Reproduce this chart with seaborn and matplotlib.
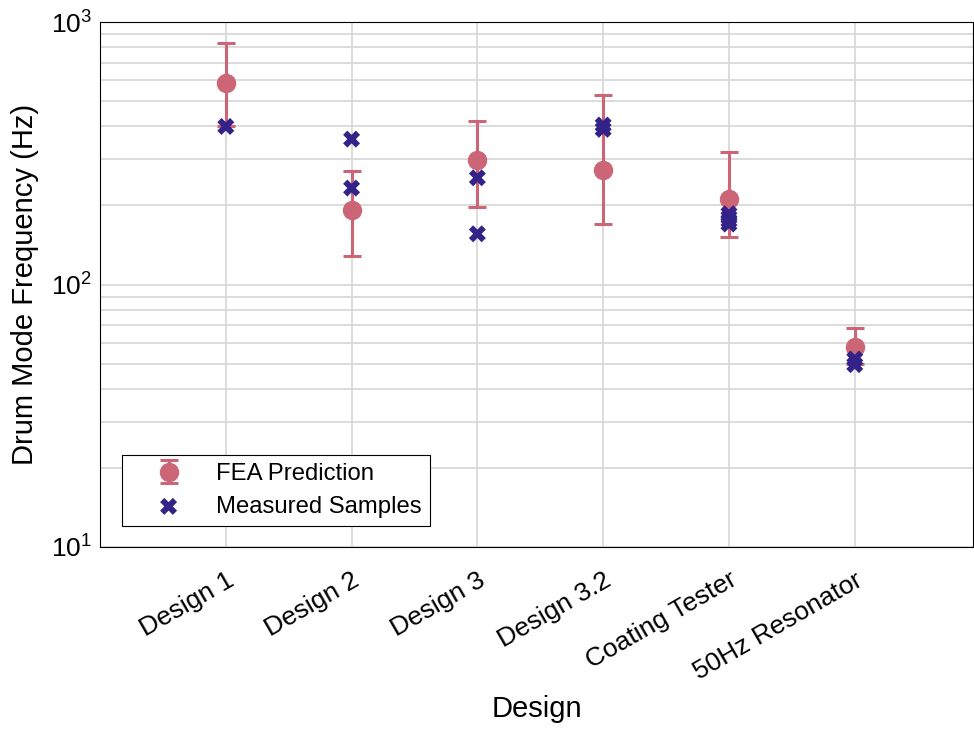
import matplotlib
matplotlib.use("Agg")
import matplotlib.pyplot as plt
import seaborn as sns
import numpy as np
import pandas as pd

# Designs on the x axis
designs = ["Design 1", "Design 2", "Design 3", "Design 3.2",
           "Coating Tester", "50Hz Resonator"]

# FEA predicted drum-mode frequency (Hz) with lower / upper bounds
fea_freq = [587, 192, 298, 272, 212, 58]
fea_low = [400, 128, 198, 170, 152, 50]
fea_high = [830, 271, 420, 527, 321, 68]

# Measured samples (Hz)
meas_design = ["Design 1",
               "Design 2", "Design 2",
               "Design 3", "Design 3",
               "Design 3.2", "Design 3.2",
               "Coating Tester", "Coating Tester", "Coating Tester", "Coating Tester",
               "50Hz Resonator", "50Hz Resonator"]
meas_freq = [400,
             358, 233,
             255, 156,
             405, 390,
             186, 180, 175, 170,
             52, 49.5]

FEA_COLOR = "#CC6677"
MEAS_COLOR = "#332288"

sns.set_theme(style="whitegrid")
plt.rcParams["font.family"] = ["Liberation Sans", "DejaVu Sans"]
plt.rcParams["mathtext.fontset"] = "custom"
plt.rcParams["mathtext.rm"] = "Liberation Sans"
plt.rcParams["mathtext.it"] = "Liberation Sans:italic"
for key in ("text.color", "axes.labelcolor", "xtick.color", "ytick.color"):
    plt.rcParams[key] = "black"

fig, ax = plt.subplots(figsize=(9.74, 7.29), dpi=100)
fig.subplots_adjust(left=100 / 974, right=973 / 974, top=1 - 22 / 729, bottom=1 - 547 / 729)

pos = {d: i for i, d in enumerate(designs)}
fea = np.array(fea_freq, dtype=float)
yerr = np.vstack([fea - np.array(fea_low), np.array(fea_high) - fea])
x_fea = [pos[d] for d in designs]

ax.errorbar(x_fea, fea, yerr=yerr, fmt="o", color=FEA_COLOR, ecolor=FEA_COLOR,
            markersize=13, elinewidth=2.2, capsize=6.5, capthick=2.2,
            label="FEA Prediction", zorder=3)

meas_df = pd.DataFrame({"Design": [pos[d] for d in meas_design],
                        "Frequency": meas_freq})
sns.scatterplot(data=meas_df, x="Design", y="Frequency", marker="X", s=150,
                color=MEAS_COLOR, edgecolor="none", linewidth=0,
                label="Measured Samples", ax=ax, zorder=4)

ax.set_yscale("log")
ax.set_ylim(10, 1000)
ax.set_xlim(-1, 5.94)
ax.set_xticks(range(len(designs)))
ax.set_xticklabels(designs, rotation=30, ha="right", rotation_mode="anchor",
                   fontsize=19)
ax.tick_params(axis="y", labelsize=19, length=0, pad=6)
ax.tick_params(axis="x", length=0, pad=15)
ax.tick_params(axis="y", which="minor", length=0)
for lbl in ax.get_xticklabels():
    lbl.set_x(lbl.get_position()[0])

ax.grid(True, which="major", color="#d6d6d6", linewidth=1.2)
ax.grid(True, which="minor", axis="y", color="#d6d6d6", linewidth=1.2)
ax.set_axisbelow(True)
for s in ax.spines.values():
    s.set_visible(True)
    s.set_color("black")
    s.set_linewidth(0.8)

ax.set_xlabel("Design", fontsize=21, labelpad=8)
ax.set_ylabel("Drum Mode Frequency (Hz)", fontsize=21, labelpad=8)

handles, labels = ax.get_legend_handles_labels()
order = [labels.index("FEA Prediction"), labels.index("Measured Samples")]
leg = ax.legend([handles[i] for i in order], [labels[i] for i in order],
                loc="lower left", bbox_to_anchor=(22 / 873, 21 / 525),
                borderaxespad=0, fontsize=17.2, frameon=True, fancybox=False,
                framealpha=1, edgecolor="black", handlelength=3.2,
                handletextpad=0.4, borderpad=0.35, labelspacing=0.45)
leg.get_frame().set_linewidth(0.8)

fig.savefig("out.png", dpi=100)
